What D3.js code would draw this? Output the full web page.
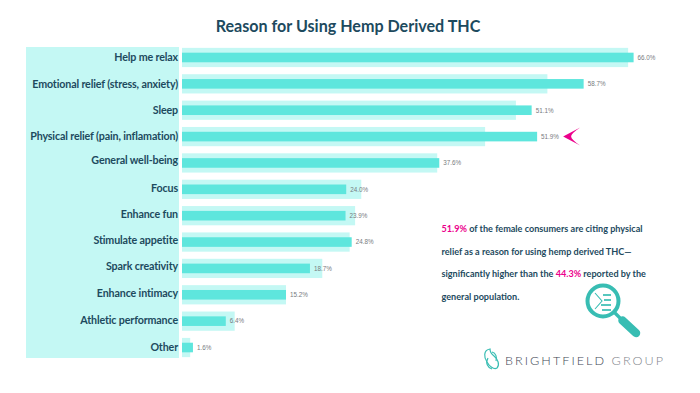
<!DOCTYPE html>
<html><head><meta charset="utf-8">
<script src="https://cdn.jsdelivr.net/npm/d3@7/dist/d3.min.js"></script>
<style>html,body{margin:0;background:#fff}svg{display:block}</style></head>
<body><svg id="c" width="700" height="393"></svg>
<script>
const categories=["Help me relax","Emotional relief (stress, anxiety)","Sleep","Physical relief (pain, inflamation)","General well-being","Focus","Enhance fun","Stimulate appetite","Spark creativity","Enhance intimacy","Athletic performance","Other"];
const femaleValues=[66.0,58.7,51.1,51.9,37.6,24.0,23.9,24.8,18.7,15.2,6.4,1.6];
const generalValues=[65.2,53.4,48.8,44.3,37.3,26.2,25.3,24.5,20.5,15.2,7.7,1.2];
const titleText="Reason for Using Hemp Derived THC";
const calloutLines=[[["51.9%",1],[" of the female consumers are citing physical",0]],[["relief as a reason for using hemp derived THC—",0]],[["significantly higher than the ",0],["44.3%",1],[" reported by the",0]],[["general population.",0]]];

const svg=d3.select("#c");
const INK="#1d4a5e",LIGHT="#c4f8f4",DARK="#5ee6dd",PINK="#ec008c",TEAL="#38bdb3";
const labelNudge=[-.5,0,-.3,-.2,-2.2,-1.5,-1,-1.5,-2,-1,-.8,0];
const x=d3.scaleLinear().domain([0,66]).range([182,633.6]);
const y=d3.scaleBand().domain(categories).range([44.3,360.7]).paddingInner(.27).paddingOuter(.135);
const yc=c=>y(c)+y.bandwidth()/2;
const data=categories.map((c,i)=>({c,f:femaleValues[i],g:generalValues[i],n:labelNudge[i]}));

svg.append("text").attr("x",348).attr("y",32).attr("text-anchor","middle")
 .attr("font-family","Lato").attr("font-weight",700).attr("font-size",16.1).attr("fill",INK).text(titleText);

svg.append("rect").attr("x",26).attr("y",47).attr("width",153).attr("height",311).attr("fill",LIGHT);

svg.selectAll("rect.g").data(data).join("rect").attr("class","g")
 .attr("x",x(0)).attr("y",d=>y(d.c)).attr("width",d=>x(d.g)-x(0)).attr("height",y.bandwidth()).attr("fill",LIGHT);
svg.selectAll("rect.f").data(data).join("rect").attr("class","f")
 .attr("x",x(0)).attr("y",d=>yc(d.c)-4.8).attr("width",d=>x(d.f)-x(0)).attr("height",9.6).attr("fill",DARK);

svg.selectAll("text.cat").data(data).join("text").attr("class","cat")
 .attr("x",178).attr("y",d=>yc(d.c)+3.7+d.n).attr("text-anchor","end")
 .attr("font-family","Lato").attr("font-weight",700).attr("font-size",10.7).attr("letter-spacing",-.14).attr("fill",INK).text(d=>d.c);
svg.selectAll("text.val").data(data).join("text").attr("class","val")
 .attr("x",d=>x(d.f)+4).attr("y",d=>yc(d.c)+2.3).attr("font-family","Liberation Sans")
 .attr("font-size",6.3).attr("fill","#777b80").text(d=>d.f.toFixed(1)+"%");

// pointer arrow next to the highlighted bar
const px=x(51.9),py=yc(categories[3]);
svg.append("path").attr("transform",`translate(${px},${py})`)
 .attr("d","M26,0 L43,-9 Q34,-3 34,0 Q34,3 43,9 Z").attr("fill",PINK);

// callout
const t=svg.append("g").attr("font-family","Lato").attr("font-weight",700).attr("font-size",9.1).attr("fill",INK);
calloutLines.forEach((ln,i)=>{
 const e=t.append("text").attr("x",441.5).attr("y",232+i*22.7).attr("xml:space","preserve");
 ln.forEach(([s,h])=>e.append("tspan").attr("fill",h?PINK:INK).text(s));
});

// magnifier icon
const m=svg.append("g").attr("fill","none").attr("stroke",TEAL);
m.append("circle").attr("cx",603).attr("cy",301).attr("r",15.5).attr("stroke-width",4);
m.append("line").attr("x1",614).attr("y1",312).attr("x2",622).attr("y2",320).attr("stroke-width",3.4);
m.append("line").attr("x1",622.5).attr("y1",320.5).attr("x2",636).attr("y2",333).attr("stroke-width",8.5).attr("stroke-linecap","round");
[[603,611,295],[604,611,300],[601,611,305],[602,611,310]].forEach(a=>m.append("line").attr("x1",a[0]).attr("x2",a[1]).attr("y1",a[2]).attr("y2",a[2]).attr("stroke-width",1.7));
m.append("path").attr("d","M595,293 L602,301 L595,309").attr("stroke-width",1.1);

// logo
const l=svg.append("g").attr("fill","none").attr("stroke",TEAL).attr("stroke-width",1.2);
l.append("path").attr("d","M490,349 C483,350 484,358 487,362 C489,366 494,370 497,368 C500,365 498,359 494,356 C490,353 490,351 490,349 Z");
l.append("path").attr("d","M488,358 C485,363 488,368 492,369 M492,352 C496,353 497,357 496,361");
svg.append("text").attr("x",505).attr("y",364.5).attr("font-family","Lato").attr("font-weight",300).attr("font-size",12.6).attr("letter-spacing",2.05).attr("fill","#3f4855")
 .html('BRIGHTFIELD <tspan fill="#7f858b">GROUP</tspan>');
</script></body></html>
